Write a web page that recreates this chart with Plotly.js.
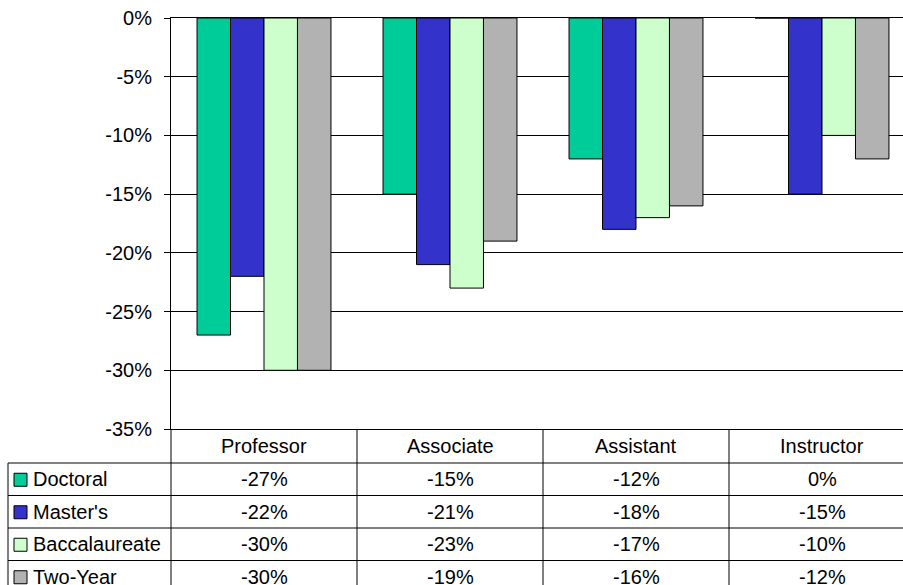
<!DOCTYPE html>
<html>
<head>
<meta charset="utf-8">
<script src="https://cdn.plot.ly/plotly-3.0.1.min.js"></script>
<style>html,body{margin:0;padding:0;background:#fff;}#chart{width:903px;height:585px;}</style>
</head>
<body>
<div id="chart"></div>
<script>
const categories = ['Professor', 'Associate', 'Assistant', 'Instructor'];
const seriesNames = ['Doctoral', "Master's", 'Baccalaureate', 'Two-Year'];
const doctoral = [-27, -15, -12, 0];
const masters = [-22, -21, -18, -15];
const baccalaureate = [-30, -23, -17, -10];
const twoYear = [-30, -19, -16, -12];
const seriesColors = ['#00CC99', '#3333CC', '#CCFFCC', '#B2B2B2'];
const yTickVals = [0, -5, -10, -15, -20, -25, -30, -35];
const yTickText = ['0%', '-5%', '-10%', '-15%', '-20%', '-25%', '-30%', '-35%'];

const seriesValues = [doctoral, masters, baccalaureate, twoYear];

// layout geometry (pixels)
const W = 903, H = 585;
const L = 171, T = 18, B = 156;
const plotW = W - L, plotH = H - T - B;
const catPx = 186;
const px = p => (p - L) / plotW;          // pixel x -> paper x
const py = p => (H - B - p) / plotH;      // pixel y -> paper y
const headerBottom = 463, rowH = 32.5;
const tableLeft = 8;
const FONT = 'Liberation Sans, Arial, sans-serif';

const traces = seriesNames.map((name, s) => ({
  type: 'bar',
  name: name,
  x: categories,
  y: seriesValues[s],
  marker: {color: seriesColors[s], line: {color: '#000', width: 1}},
  hoverinfo: 'x+y+name'
}));

const shapes = [];
const annotations = [];

// vertical separators between category columns in the table
for (let i = 0; i < categories.length; i++) {
  shapes.push({type: 'line', xref: 'x', yref: 'paper', x0: i + 0.5, x1: i + 0.5,
    y0: py(H + 10), y1: 0, line: {color: '#000', width: 1}});
}
// left border of label column
shapes.push({type: 'line', xref: 'paper', yref: 'paper', x0: px(tableLeft), x1: px(tableLeft),
  y0: py(headerBottom), y1: py(H + 10), line: {color: '#000', width: 1}});
// y axis line extended down through table
shapes.push({type: 'line', xref: 'paper', yref: 'paper', x0: 0, x1: 0,
  y0: 0, y1: py(H + 10), line: {color: '#000', width: 1}});
// horizontal row lines
for (let r = 0; r < seriesNames.length; r++) {
  const yy = headerBottom + r * rowH;
  shapes.push({type: 'line', xref: 'paper', yref: 'paper', x0: px(tableLeft), x1: 1.05,
    y0: py(yy), y1: py(yy), line: {color: '#000', width: 1}});
}

// header texts
categories.forEach((c, i) => {
  annotations.push({xref: 'x', yref: 'paper', x: i, y: py((H - B + headerBottom) / 2),
    text: c, showarrow: false, xanchor: 'center', yanchor: 'middle',
    font: {family: FONT, size: 20, color: '#000'}});
});

// rows
seriesNames.forEach((name, s) => {
  const cy = headerBottom + (s + 0.5) * rowH;
  // legend key square
  shapes.push({type: 'rect', xref: 'paper', yref: 'paper',
    x0: px(14), x1: px(27), y0: py(cy - 6), y1: py(cy + 7),
    fillcolor: seriesColors[s], line: {color: '#000', width: 1}});
  annotations.push({xref: 'paper', yref: 'paper', x: px(31), y: py(cy),
    text: name, showarrow: false, xanchor: 'left', yanchor: 'middle',
    font: {family: FONT, size: 20, color: '#000'}});
  seriesValues[s].forEach((v, i) => {
    annotations.push({xref: 'x', yref: 'paper', x: i, y: py(cy),
      text: v + '%', showarrow: false, xanchor: 'center', yanchor: 'middle',
      font: {family: FONT, size: 20, color: '#000'}});
  });
});

const layout = {
  width: W, height: H,
  margin: {l: L, r: 0, t: T, b: B, pad: 0},
  paper_bgcolor: '#fff', plot_bgcolor: '#fff',
  showlegend: false,
  barmode: 'group', bargap: 0.28, bargroupgap: 0,
  font: {family: FONT, size: 20, color: '#000'},
  xaxis: {
    type: 'category',
    range: [-0.5, -0.5 + plotW / catPx],
    showticklabels: false, ticks: '',
    showgrid: false, zeroline: false,
    showline: true, mirror: true, linecolor: '#000', linewidth: 1,
    fixedrange: true
  },
  yaxis: {
    range: [-35, 0],
    tickmode: 'array', tickvals: yTickVals, ticktext: yTickText,
    ticks: 'outside', ticklen: 6, tickcolor: '#000', tickwidth: 1,
    ticklabelstandoff: 8,
    showgrid: true, gridcolor: '#000', gridwidth: 1,
    zeroline: false,
    showline: true, linecolor: '#000', linewidth: 1,
    tickfont: {family: FONT, size: 20, color: '#000'},
    fixedrange: true
  },
  shapes: shapes,
  annotations: annotations
};

Plotly.newPlot('chart', traces, layout, {displayModeBar: false, staticPlot: true});
</script>
</body>
</html>
